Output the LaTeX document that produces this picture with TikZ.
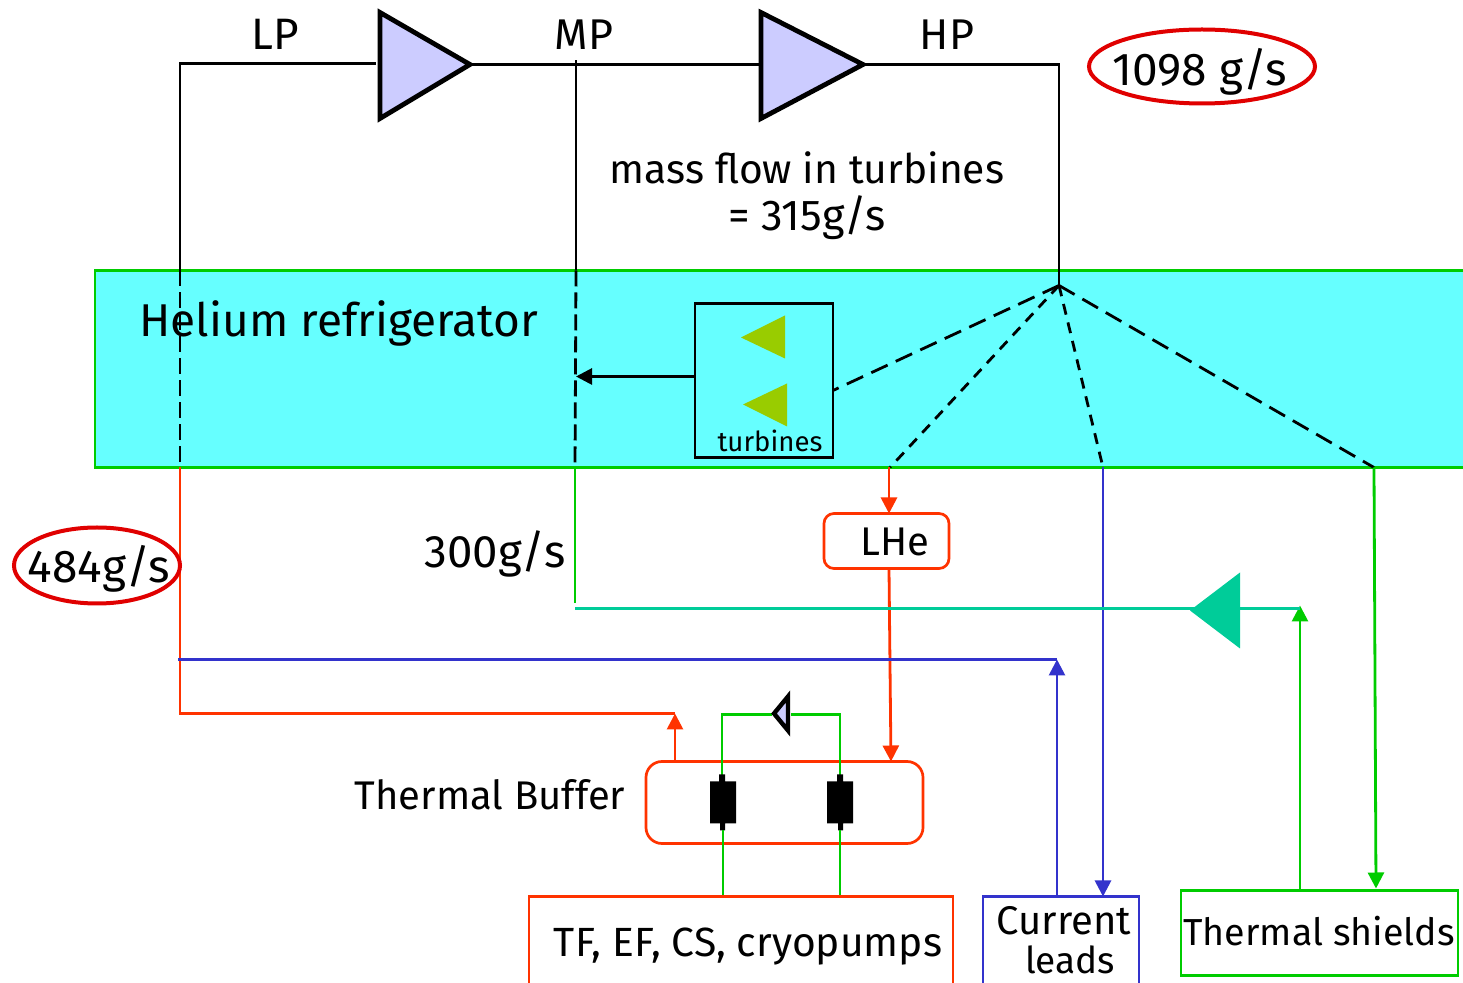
\documentclass[tikz,border=0pt]{standalone}
\usepackage{fontspec}
\setmainfont{Fira Sans}
\usetikzlibrary{arrows.meta}
\definecolor{cyanfill}{HTML}{66FFFF}
\definecolor{grn}{HTML}{00CC00}
\definecolor{redo}{HTML}{FF3300}
\definecolor{blu}{HTML}{3333CC}
\definecolor{teal2}{HTML}{00CC99}
\definecolor{olive2}{HTML}{99CC00}
\definecolor{lav}{HTML}{CCCCFF}
\newcommand{\fs}[1]{\fontsize{#1}{#1}\selectfont}
\tikzset{
  x=0.5pt,y=-0.5pt,
  wire/.style={line width=1.4pt,line cap=butt},
  blk/.style={wire,draw=black},
  dsh/.style={wire,draw=black,dash pattern=on 8pt off 3pt},
  dshlong/.style={wire,draw=black,dash pattern=on 9pt off 4.5pt},
  dshshort/.style={wire,draw=black,dash pattern=on 5.5pt off 4pt},
  arr/.style={-{Triangle[length=8pt,width=8pt]}},
  lab/.style={inner sep=0pt,text=black},
  boxn/.style={draw=#1,line width=1.35pt,inner sep=0pt,fill=none},
  ell/.style={draw=red!88!black,line width=2pt},
  comp/.style={fill=lav,draw=black,line width=2.4pt,line join=miter},
}
\begin{document}
\begin{tikzpicture}
\useasboundingbox (0,0) rectangle (1463,983);
\clip (0,0) rectangle (1463,983);
\begin{scope}[shift={(0,0.5)}]
% refrigerator band
\path[fill=cyanfill] (95,270) rectangle (1475,467);
\draw[draw=grn,line width=1.4pt] (1475,270) -- (95,270) -- (95,467) -- (1475,467);
% named points
\coordinate (lpL) at (180,63);
\coordinate (lpR) at (376,63);
\coordinate (c1in) at (380,64);
\coordinate (c1out) at (470,64);
\coordinate (c2in) at (761,64);
\coordinate (c2out) at (863,64);
\coordinate (hpC) at (1059,64);
\coordinate (hub) at (1059,285);
\coordinate (hpB) at (1059,270);
\coordinate (lpT) at (180,270);
\coordinate (lpB) at (180,467);
\coordinate (lpC) at (180,713);
\coordinate (rT) at (675,713);
\coordinate (mpT) at (576,60);
\coordinate (mpM) at (576,270);
\coordinate (mpB) at (575,467);
\coordinate (mpG) at (575,603);
\coordinate (tl) at (575,608);
\coordinate (tr) at (1300,608);
\coordinate (turb) at (576,376);
\coordinate (d1) at (833,390);
\coordinate (d2) at (890,467);
\coordinate (d3) at (1103,467);
\coordinate (d4) at (1374,467);
\coordinate (blL) at (178,659);
\coordinate (blR) at (1057,659);
% compressors
\draw[comp] (380,12) -- (380,118) -- (470,64) -- cycle;
\draw[comp] (761,12) -- (761,118) -- (863,64) -- cycle;
% upper wires
\draw[blk] (lpR) -- (lpL) -- (lpT);
\draw[blk] (c1out) -- (c2in);
\draw[blk] (c2out) -- (hpC) -- (hub);
\draw[blk] (mpT) -- (mpM);
\draw[dsh] (lpT) -- (lpB);
\draw[dsh] (mpM) -- (mpB);
% turbines box
\node[boxn=black,minimum width=69pt,minimum height=77pt] (tbox) at (764,380) {};
\fill[olive2] (785,315) -- (785,358) -- (741,337) -- cycle;
\fill[olive2] (787,383) -- (787,426) -- (743,404) -- cycle;
\node[lab,font=\fs{13.8}] (tl1) at (770,440) {turbines};
\draw[blk,arr] (tbox.west |- turb) -- (turb);
% dashed fan
\draw[dshlong] (hub) -- (d1);
\draw[dshshort] (hub) -- (d2);
\draw[dshshort] (hub) -- (d3);
\draw[dshlong] (hub) -- (d4);
% LHe
\node[boxn=redo,rounded corners=5pt,minimum width=62.5pt,minimum height=27.5pt] (lhe) at (886.5,540.5) {};
\node[lab,font=\fs{20}] (lhetxt) at (895,541) {LHe};
\coordinate (lheIn) at (889,513);
\coordinate (lheOut) at (889,568);
\draw[wire,draw=redo,arr] (d2 -| lheIn) -- (lheIn);
% buffer
\node[boxn=redo,rounded corners=8pt,minimum width=138.5pt,minimum height=41pt] (buf) at (784.5,802) {};
\coordinate (bufIn) at (891,761);
\coordinate (bufOut) at (675,761);
\draw[wire,draw=redo,arr] (lheOut) -- (bufIn);
\draw[wire,draw=redo] (lpB) -- (lpC) -- (rT);
\draw[wire,draw=redo,arr] (bufOut) -- (rT);
% valves / green loop
\coordinate (gAt) at (722,714);
\coordinate (gBt) at (840,714);
\coordinate (gA) at (722,775);
\coordinate (gB) at (840,775);
\coordinate (tfA) at (723,896);
\coordinate (tfB) at (840,896);
\coordinate (vL) at (772,714);
\coordinate (vR) at (791,714);
\draw[wire,draw=grn] (gA) -- (gAt) -- (vL);
\draw[wire,draw=grn] (vR) -- (gBt) -- (gB);
\draw[fill=lav,draw=black,line width=2.2pt,line join=miter] (788,696) -- (788,730) -- (774,713) -- cycle;
\fill[black] (710,781) rectangle (736,823) (719,774) rectangle (725,781) (720,823) rectangle (725,830);
\fill[black] (827,781) rectangle (853,823) (837,774) rectangle (843,781) (838,823) rectangle (843,830);
\coordinate (gA2) at (723,830);
\coordinate (gB2) at (840,830);
\draw[wire,draw=grn] (gA2) -- (tfA);
\draw[wire,draw=grn] (gB2) -- (tfB);
% bottom boxes
\draw[wire,draw=redo,line width=1.35pt] (529,990) -- (529,896) -- (953,896) -- (953,990);
\draw[wire,draw=blu,line width=1.35pt] (983,990) -- (983,896) -- (1139,896) -- (1139,990);
\node[boxn=grn,minimum width=138.5pt,minimum height=42.5pt] (shield) at (1319.5,932.5) {};
% long wires
\coordinate (clIn) at (1103,896);
\coordinate (clUp) at (1057,896);
\coordinate (shIn) at (1376,888);
\coordinate (shUp) at (1300,890);
\coordinate (shTop) at (1300,605);
\draw[wire,draw=blu,arr] (d3) -- (clIn);
\draw[wire,draw=grn,arr] (d4) -- (shIn);
\draw[wire,draw=grn] (mpB) -- (mpG);
\draw[wire,draw=grn,arr] (shUp) -- (shTop);
\draw[wire,draw=teal2] (tl) -- (tr);
\fill[teal2] (1240,572) -- (1240,648) -- (1190,610) -- cycle;
\draw[wire,draw=blu] (blL) -- (blR);
\draw[wire,draw=blu,arr] (clUp) -- (blR);
% ellipses
\draw[ell] (1202,66) ellipse [x radius=113,y radius=37];
\draw[ell] (97,565) ellipse [x radius=83,y radius=38];
% text
\node[lab,font=\fs{22}] (lp) at (275,34) {LP};
\node[lab,font=\fs{21.5}] (mp) at (584,34) {MP};
\node[lab,font=\fs{21.5}] (hp) at (947,34) {HP};
\node[lab,font=\fs{23}] (rate) at (1200,71) {1098 g/s};
\node[lab,font=\fs{20.4}] (flow1) at (807,167) {mass flow in turbines};
\node[lab,font=\fs{21.6}] (flow2) at (807,217) {= 315g/s};
\node[lab,font=\fs{23}] (he) at (339,323) {Helium refrigerator};
\node[lab,font=\fs{23}] (r484) at (99,568) {484g/s};
\node[lab,font=\fs{22.8}] (r300) at (495,553) {300g/s};
\node[lab,font=\fs{20}] (tb) at (490,794) {Thermal Buffer};
\node[lab,font=\fs{20.4}] (tf) at (748,946) {TF, EF, CS, cryopumps};
\node[lab,font=\fs{20}] (cl1) at (1064,920) {Current};
\node[lab,font=\fs{18.5}] (cl2) at (1070,959) {leads};
\node[lab,font=\fs{18.8}] (ts) at (1319,931) {Thermal shields};
\end{scope}
\end{tikzpicture}
\end{document}
